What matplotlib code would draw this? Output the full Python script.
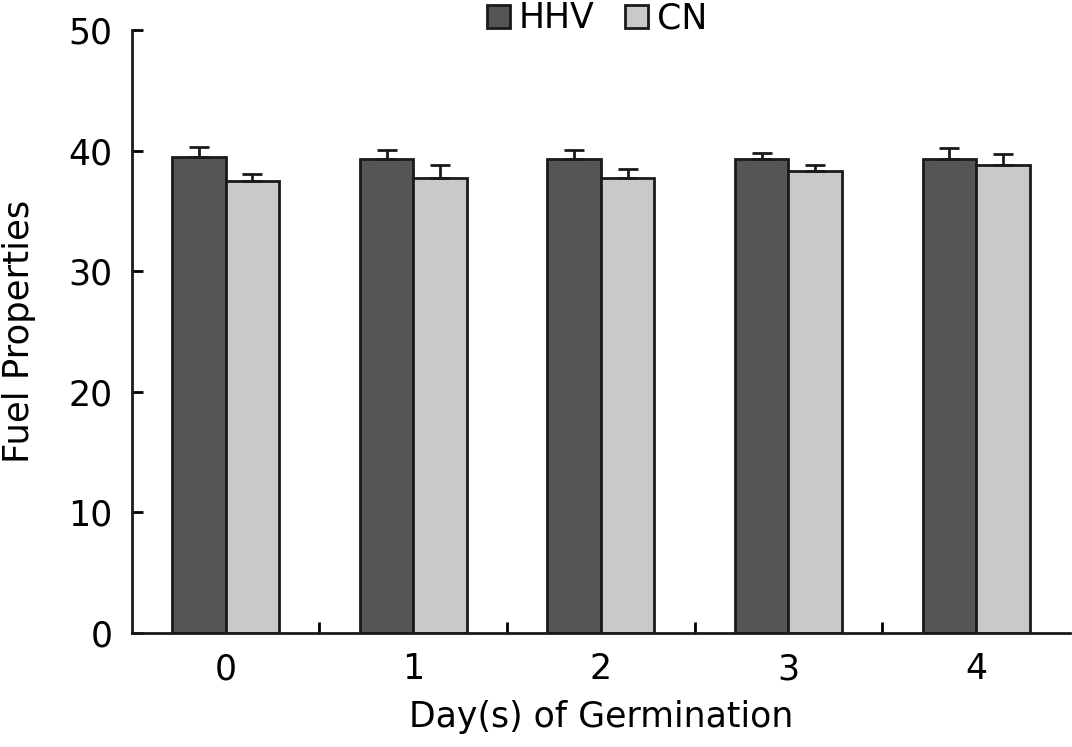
import matplotlib
matplotlib.use("Agg")
import matplotlib.pyplot as plt
import numpy as np

plt.rcParams['font.family'] = ['DejaVu Sans']

days = ["0", "1", "2", "3", "4"]
hhv = [39.5, 39.3, 39.3, 39.3, 39.3]
hhv_err = [0.8, 0.75, 0.75, 0.5, 0.95]
cn = [37.5, 37.75, 37.75, 38.3, 38.8]
cn_err = [0.55, 1.05, 0.75, 0.5, 0.95]

fig = plt.figure(figsize=(10.72, 7.47), dpi=100)
ax = fig.add_axes([0.123, 0.1526, 0.875, 0.8072])

x = np.arange(len(days))
w = 0.285
ekw = dict(elinewidth=2, capthick=2, ecolor='#1a1a1a')
ax.bar(x - w/2, hhv, w, color='#555556', edgecolor='#1a1a1a', linewidth=2,
       yerr=[np.zeros(len(hhv)), hhv_err], capsize=7.5, error_kw=ekw, label='HHV')
ax.bar(x + w/2, cn, w, color='#c8c9cb', edgecolor='#1a1a1a', linewidth=2,
       yerr=[np.zeros(len(cn)), cn_err], capsize=7.5, error_kw=ekw, label='CN')

ax.set_xlim(-0.5, 4.5)
ax.set_ylim(0, 50)
ax.set_yticks([0, 10, 20, 30, 40, 50])
ax.set_xticks(x)
ax.set_xticklabels(days)
ax.set_xticks(np.arange(0.5, 4.5, 1), minor=True)
ax.tick_params(axis='x', which='major', length=0, labelsize=25, pad=14)
ax.tick_params(axis='x', which='minor', direction='in', length=8, width=2)
ax.tick_params(axis='y', direction='in', length=8, width=2, labelsize=25, pad=14)
for s in ['top', 'right']:
    ax.spines[s].set_visible(False)
for s in ['left', 'bottom']:
    ax.spines[s].set_linewidth(2)
    ax.spines[s].set_color('#1a1a1a')

ax.set_xlabel('Day(s) of Germination', fontsize=25, labelpad=10)
ax.set_ylabel('Fuel Properties', fontsize=25.5, labelpad=23)

fig.legend(loc='upper center', bbox_to_anchor=(0.557, 1.04), ncol=2, frameon=False,
           fontsize=25, handlelength=0.65, handleheight=0.65, handletextpad=0.25,
           columnspacing=0.9)

fig.savefig('out.png', dpi=100)
